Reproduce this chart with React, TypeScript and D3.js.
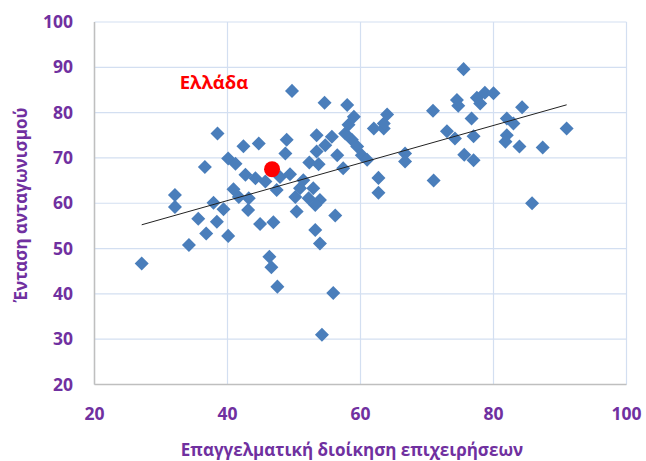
import React from "react";
import * as d3 from "d3";

const countryX: number[] = [
  27.1, 32.1, 32.1, 34.2, 35.6, 36.8, 36.6, 37.9, 38.4, 38.5, 39.4, 40.1, 40.1, 41.2, 40.9, 41.7,
  42.4, 42.7, 43.1, 43.2, 44.2, 44.7, 44.9, 45.7, 46.9, 46.3, 46.6, 47.5, 47.4, 47.9, 48.7, 48.9,
  49.4, 49.7, 50.2, 50.4, 50.9, 51.4, 52.2, 52.3, 53.7, 52.9, 53.9, 53.2, 53.2, 53.9, 54.2, 55.9,
  56.2, 53.4, 53.4, 54.6, 54.7, 55.7, 56.5, 57.4, 57.7, 58.2, 58.0, 58.7, 59.0, 59.5, 60.2, 61.0,
  62.0, 63.5, 63.5, 64.0, 62.7, 62.7, 66.7, 66.7, 70.9, 71.0, 73.0, 74.2, 74.5, 74.7, 75.5, 75.6,
  76.7, 77.0, 77.0, 77.5, 78.0, 78.7, 80.0, 82.0, 83.0, 82.0, 81.8, 83.9, 84.3, 85.8, 87.4, 91.0,
];
const countryY: number[] = [
  46.7, 61.8, 59.2, 50.8, 56.6, 53.3, 68.0, 60.1, 55.9, 75.4, 58.7, 52.8, 69.9, 68.7, 63.1, 61.4,
  72.6, 66.3, 58.5, 61.1, 65.5, 73.2, 55.4, 64.8, 55.8, 48.2, 45.9, 41.6, 62.9, 65.8, 71.0, 74.0,
  66.4, 84.8, 61.4, 58.2, 63.3, 65.1, 61.1, 69.0, 68.6, 63.3, 60.7, 59.6, 54.1, 51.1, 31.0, 40.2,
  57.3, 71.4, 75.0, 82.2, 72.8, 74.7, 70.6, 67.7, 75.4, 77.3, 81.7, 74.0, 79.1, 72.5, 70.6, 69.6,
  76.5, 76.5, 77.6, 79.6, 65.6, 62.3, 71.0, 69.2, 80.4, 65.0, 75.9, 74.3, 82.8, 81.5, 89.6, 70.7,
  78.7, 74.8, 69.5, 83.3, 82.0, 84.4, 84.3, 78.7, 77.6, 75.0, 73.6, 72.5, 81.2, 60.0, 72.3, 76.5,
];

const greeceX = 46.7;
const greeceY = 67.5;
const greeceLabel = "Ελλάδα";

const xTicks: number[] = [20, 40, 60, 80, 100];
const yTicks: number[] = [20, 30, 40, 50, 60, 70, 80, 90, 100];
const xTitle = "Επαγγελματική διοίκηση επιχειρήσεων";
const yTitle = "Ένταση ανταγωνισμού";

const PURPLE = "#7030A0";
const FONT = "'Open Sans', 'Noto Sans', sans-serif";

export default function App() {
  const left = 94.5, right = 626.5, top = 22, bottom = 384.5;
  const x = d3.scaleLinear().domain([20, 100]).range([left, right]);
  const y = d3.scaleLinear().domain([20, 100]).range([bottom, top]);

  // linear regression trendline
  const n = countryX.length;
  const mx = d3.mean(countryX) as number;
  const my = d3.mean(countryY) as number;
  let sxy = 0, sxx = 0;
  for (let i = 0; i < n; i++) {
    sxy += (countryX[i] - mx) * (countryY[i] - my);
    sxx += (countryX[i] - mx) ** 2;
  }
  const slope = sxy / sxx;
  const intercept = my - slope * mx;
  const [x0, x1] = d3.extent(countryX) as [number, number];
  const trend = d3.line<number>().x((d) => x(d)).y((d) => y(intercept + slope * d))([x0, x1]);

  const diamond = d3.symbol().type(d3.symbolDiamond2).size(125)();

  return (
    <svg width={646} height={461} style={{ position: "absolute", left: 0, top: 0, background: "#fff" }}>
      {/* gridlines */}
      {yTicks.map((t) => (
        <line key={"gy" + t} x1={left} x2={right} y1={y(t)} y2={y(t)} stroke="#D3DFF1" strokeWidth={1.2} />
      ))}
      {xTicks.map((t) => (
        <line key={"gx" + t} x1={x(t)} x2={x(t)} y1={top} y2={bottom} stroke="#D3DFF1" strokeWidth={1.2} />
      ))}
      {/* axes */}
      <line x1={left} x2={left} y1={top} y2={bottom} stroke="#BFBFBF" strokeWidth={1.5} />
      <line x1={left} x2={right} y1={bottom} y2={bottom} stroke="#BFBFBF" strokeWidth={1.5} />

      {/* points */}
      {countryX.map((cx, i) => (
        <path key={i} d={diamond as string} transform={`translate(${x(cx)},${y(countryY[i])})`} fill="#4A7EBB" />
      ))}
      {/* trendline */}
      <path d={trend as string} fill="none" stroke="#222" strokeWidth={1} />
      {/* Greece */}
      <circle cx={x(greeceX)} cy={y(greeceY)} r={8} fill="#FF0000" />
      <text x={214} y={89} textAnchor="middle" fill="#FF0000" fontFamily={FONT} fontWeight="bold" fontSize={18.5}>
        {greeceLabel}
      </text>

      {/* tick labels */}
      {yTicks.map((t) => (
        <text key={"ty" + t} x={73} y={y(t)} dy="0.35em" textAnchor="end" fill={PURPLE} fontFamily={FONT} fontWeight="bold" fontSize={17.5}>
          {t}
        </text>
      ))}
      {xTicks.map((t) => (
        <text key={"tx" + t} x={x(t)} y={420} textAnchor="middle" fill={PURPLE} fontFamily={FONT} fontWeight="bold" fontSize={17.5}>
          {t}
        </text>
      ))}
      {/* titles */}
      <text x={352} y={456} textAnchor="middle" fill={PURPLE} fontFamily={FONT} fontWeight="bold" fontSize={17}>
        {xTitle}
      </text>
      <text transform="translate(27,205) rotate(-90)" textAnchor="middle" fill={PURPLE} fontFamily={FONT} fontWeight="bold" fontSize={17}>
        {yTitle}
      </text>
    </svg>
  );
}
